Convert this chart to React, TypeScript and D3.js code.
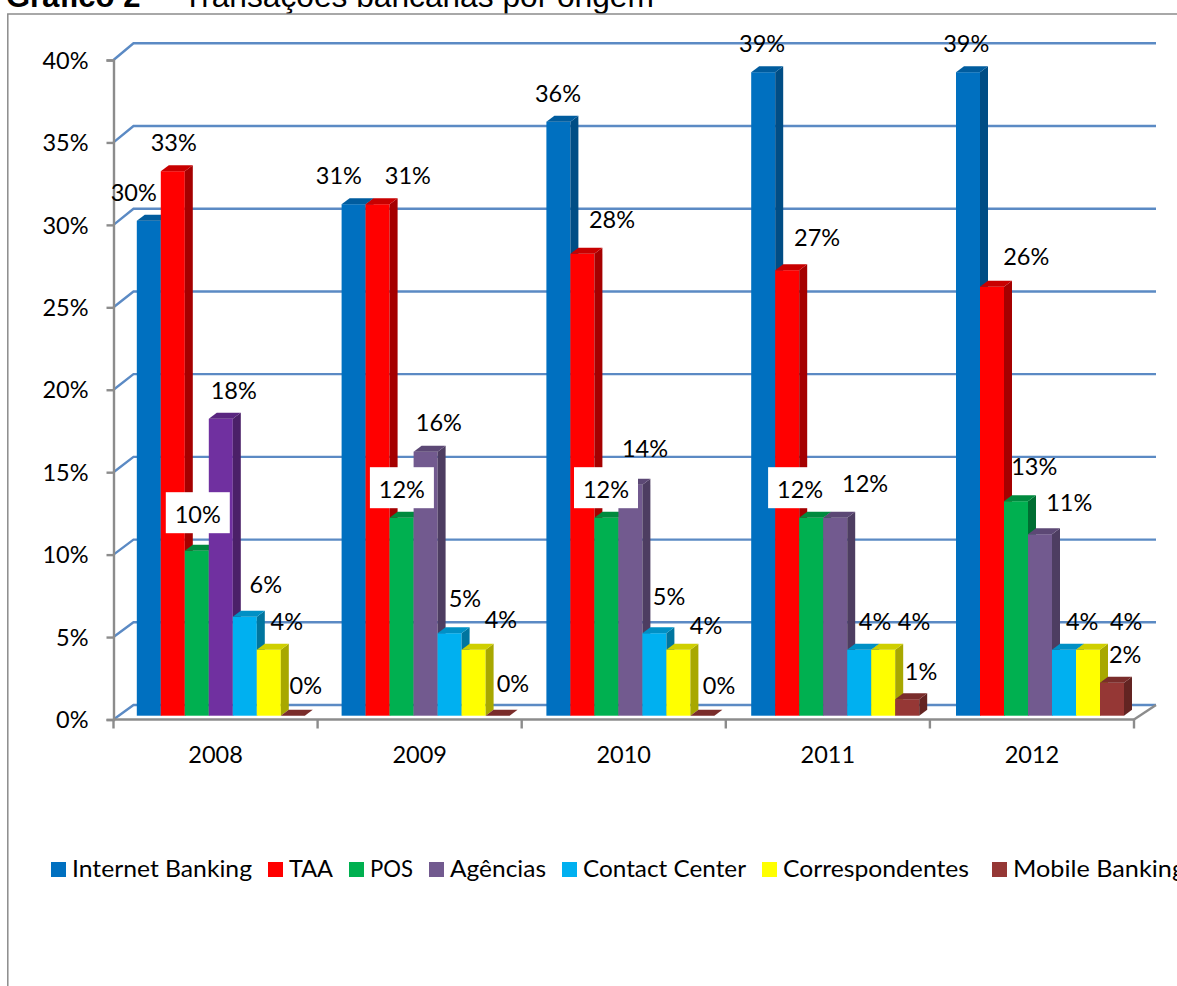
import React, { useEffect, useRef } from 'react';
import * as d3 from 'd3';

const years = ['2008', '2009', '2010', '2011', '2012'];
const seriesNames = ['Internet Banking', 'TAA', 'POS', 'Agências', 'Contact Center', 'Correspondentes', 'Mobile Banking'];
const yTicks = [0, 5, 10, 15, 20, 25, 30, 35, 40];

const internetBanking = [30, 31, 36, 39, 39];
const taa = [33, 31, 28, 27, 26];
const pos = [10, 12, 12, 12, 13];
const agencias = [18, 16, 14, 12, 11];
const contactCenter = [6, 5, 5, 4, 4];
const correspondentes = [4, 4, 4, 4, 4];
const mobileBanking = [0, 0, 0, 1, 2];
const seriesValues = [internetBanking, taa, pos, agencias, contactCenter, correspondentes, mobileBanking];

// front, top, side
const seriesColors = [
  ['#0070C0', '#005c9e', '#004d85'],
  ['#FF0000', '#c80000', '#a50000'],
  ['#00B050', '#008a3e', '#006e32'],
  ['#725A8F', '#5c4875', '#4d3d61'],
  ['#00B0F0', '#0090c5', '#00759f'],
  ['#FFFF00', '#cfcf00', '#a8a800'],
  ['#953735', '#7a2d2b', '#632422'],
];
const purple2008 = ['#7030A0', '#5a2680', '#4b2068'];

// manual label nudges from the top centre of each bar
const labelDx = [
  [-15, -14, 1, 1, 1],
  [1, 31, 31, 32, 37],
  [1, 1, 1, -9, 21],
  [13, 14, 16, 32, 32],
  [21, 16, 16, 18, 21],
  [18, 28, 29, 33, 41],
  [13, 16, 18, 16, 16],
];
const labelDy = [
  [-28, -28, -28, -28, -28],
  [-28, -28, -34, -32, -30],
  [-36, -28, -28, -28, -34],
  [-28, -29, -36, -34, -31],
  [-32, -34, -36, -28, -28],
  [-28, -30, -24, -28, -28],
  [-30, -32, -30, -27, -28],
];
// POS labels with a white box, 2012 has none
const boxedYears = ['2008', '2009', '2010', '2011'];

const legendMarkerX = [51, 268, 349, 429, 562, 762, 992];
const legendTextWidth = [180, 44, 43, 96, 163, 186, 172];

const FONT = 'Lato, sans-serif';
const ARIAL = '"Liberation Sans", Arial, sans-serif';

const App = () => {
  const ref = useRef<SVGSVGElement>(null);

  useEffect(() => {
    const svg = d3.select(ref.current);
    svg.selectAll('*').remove();

    const x0 = d3.scaleBand().domain(years).range([113.5, 1134]);
    // the bars step a little wider than the axis ticks in the original
    const x0Bars = d3.scaleBand().domain(years).range([113.5, 1137.5]);
    const xBar = d3.scaleBand().domain(seriesNames).range([23.3, 191.3]);
    const yFront = d3.scaleLinear().domain([0, 40]).range([719.5, 60]);
    const yBack = d3.scaleLinear().domain([0, 40]).range([705, 43.3]);
    const yBar = d3.scaleLinear().domain([0, 40]).range([715.7, 55.7]);
    const depthX = 8;
    const depthY = 6;
    const grey = '#8c8c8c';

    // title
    svg.append('text').attr('x', 6).attr('y', 7).attr('font-family', ARIAL).attr('font-size', 31)
      .attr('font-weight', 'bold').attr('fill', '#000').text('Gráfico 2');
    svg.append('text').attr('x', 183).attr('y', 7).attr('font-family', ARIAL).attr('font-size', 31.7)
      .attr('fill', '#000').text('Transações bancárias por origem');

    // frame, the right and bottom sides are cut off
    svg.append('path').attr('d', 'M7.8,986V14H1177').attr('fill', 'none').attr('stroke', grey).attr('stroke-width', 1.5);

    // gridlines
    svg.append('g').selectAll('path').data(yTicks).enter().append('path')
      .attr('d', d => `M113.5,${yFront(d)}L133.5,${yBack(d)}H1156`)
      .attr('fill', 'none')
      .attr('stroke', '#5b8ac4')
      .attr('stroke-width', 2.4);

    // floor edge on the right
    svg.append('path').attr('d', `M1134,${yFront(0)}L1156,${yBack(0)}`).attr('fill', 'none').attr('stroke', grey).attr('stroke-width', 2.4);

    // axes
    const yAxis = svg.append('g')
      .attr('transform', 'translate(113.5,0)')
      .call(d3.axisLeft(yFront).tickValues(yTicks).tickSize(7).tickPadding(18).tickFormat(d => `${d}%`));
    const xAxis = svg.append('g')
      .attr('transform', `translate(0,${yFront(0)})`)
      .call(d3.axisBottom(x0).tickSize(9).tickSizeOuter(9).tickPadding(18));
    [yAxis, xAxis].forEach(a => {
      a.selectAll('path,line').attr('stroke', grey).attr('stroke-width', 2.4);
      a.selectAll('text').attr('fill', '#000').attr('font-family', FONT).attr('font-size', 23.5);
    });
    yAxis.selectAll('text').attr('dy', '0.35em');
    xAxis.select('.domain').attr('d', `M113.5,0H1134`);
    xAxis.selectAll('.tick').each(function () {
      // ticks sit between the categories
      d3.select(this).select('line').attr('x1', -x0.bandwidth() / 2).attr('x2', -x0.bandwidth() / 2);
    });
    xAxis.append('line').attr('x1', 1134).attr('x2', 1134).attr('y1', 0).attr('y2', 9).attr('stroke', grey).attr('stroke-width', 2.4);

    // bars, left to right so each one hides the side of the one before
    const bars = svg.append('g');
    years.forEach((year, yi) => {
      seriesNames.forEach((name, si) => {
        const v = seriesValues[si][yi];
        const colors = si === 3 && year === '2008' ? purple2008 : seriesColors[si];
        const left = x0Bars(year)! + xBar(name)!;
        const right = left + xBar.bandwidth();
        const top = yBar(v);
        const base = yBar(0);
        if (v > 0) {
          bars.append('rect').attr('x', left).attr('y', top).attr('width', xBar.bandwidth()).attr('height', base - top).attr('fill', colors[0]);
          bars.append('path')
            .attr('d', `M${right},${top}L${right + depthX},${top - depthY}V${base - depthY}L${right},${base}Z`)
            .attr('fill', colors[2]);
        }
        bars.append('path')
          .attr('d', `M${left},${top}L${left + depthX},${top - depthY}H${right + depthX}L${right},${top}Z`)
          .attr('fill', colors[1]);
      });
    });

    // data labels
    const labels = svg.append('g');
    years.forEach((year, yi) => {
      seriesNames.forEach((name, si) => {
        const v = seriesValues[si][yi];
        const cx = x0(year)! + xBar(name)! + xBar.bandwidth() / 2 + labelDx[si][yi];
        const cy = yBar(v) + labelDy[si][yi];
        if (si === 2 && boxedYears.includes(year)) {
          labels.append('rect').attr('x', cx - 32).attr('y', cy - 22.5).attr('width', 64).attr('height', 41).attr('fill', '#fff');
        }
        labels.append('text')
          .attr('x', cx).attr('y', cy).attr('dy', '0.35em')
          .attr('text-anchor', 'middle')
          .attr('font-family', FONT).attr('font-size', 23.5).attr('fill', '#000')
          .text(`${v}%`);
      });
    });

    // legend
    const legend = svg.append('g');
    seriesNames.forEach((name, i) => {
      legend.append('rect').attr('x', legendMarkerX[i]).attr('y', 862).attr('width', 15).attr('height', 15).attr('fill', seriesColors[i][0]);
      legend.append('text')
        .attr('x', legendMarkerX[i] + 21).attr('y', 877)
        .attr('font-family', FONT).attr('font-size', 23.5).attr('fill', '#000')
        .attr('textLength', legendTextWidth[i]).attr('lengthAdjust', 'spacingAndGlyphs')
        .text(name);
    });
  }, []);

  return <svg ref={ref} width={1177} height={986} style={{ position: 'absolute', left: 0, top: 0, background: '#fff' }} />;
};

export default App;
